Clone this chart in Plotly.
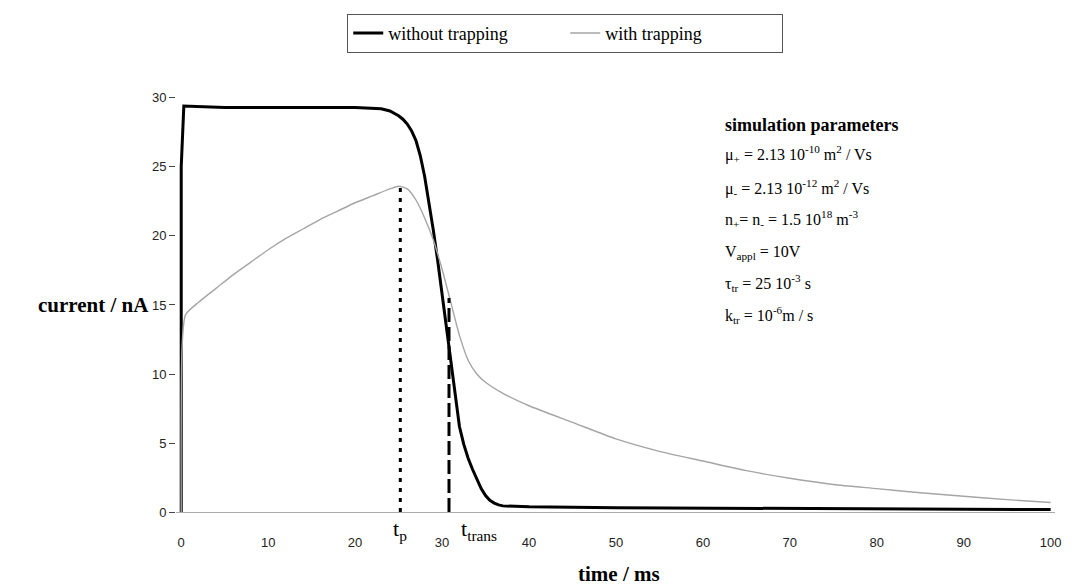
import plotly.graph_objects as go

# time axis (ms) and currents (nA)
t_without = [0, 0, 0.3, 5, 10, 15, 20, 23, 24, 25, 25.5, 26, 26.5, 27, 27.5, 28, 28.5, 29, 29.5, 30, 30.5,
             31, 31.5, 32, 32.5, 33, 33.5, 34, 34.5, 35, 35.5, 36, 36.5, 37, 40, 50, 60, 70, 80, 90, 100]
i_without = [0, 25, 29.4, 29.3, 29.3, 29.3, 29.3, 29.2, 29.05, 28.7, 28.45, 28.1, 27.6, 26.9, 25.8, 24.3, 22.5, 20.4, 18.2, 15.8, 13.2,
             10.6, 8.3, 6.2, 4.9, 3.9, 3.1, 2.4, 1.7, 1.2, 0.85, 0.65, 0.52, 0.45, 0.38, 0.32, 0.28, 0.25, 0.22, 0.2, 0.18]

t_with = [0, 0.1, 0.5, 2, 4, 6, 8, 10, 12, 14, 16, 18, 20, 22, 24, 25, 26, 27, 28, 29, 30, 31, 32, 33, 34, 35, 37, 40, 45, 50, 55, 60, 65, 70, 75, 80, 85, 90, 95, 100]
i_with = [0, 12, 14.3, 15.2, 16.2, 17.2, 18.1, 19.0, 19.8, 20.5, 21.2, 21.8, 22.4, 22.9, 23.4, 23.6, 23.4, 22.6, 21.3, 19.7, 17.6, 15.2, 12.8, 11.0, 10.0, 9.4, 8.6, 7.7, 6.5, 5.3, 4.4, 3.7, 3.0, 2.45, 2.0, 1.7, 1.4, 1.15, 0.9, 0.7]

# marker times
t_p = 25.2
i_p = 23.6
t_trans = 30.8
i_trans = 15.5

x_ticks = [0, 10, 20, 30, 40, 50, 60, 70, 80, 90, 100]
y_ticks = [0, 5, 10, 15, 20, 25, 30]

params = [
    "μ<sub>+</sub> = 2.13 10<sup>-10</sup> m<sup>2</sup> / Vs",
    "μ<sub>-</sub> = 2.13 10<sup>-12</sup> m<sup>2</sup> / Vs",
    "n<sub>+</sub>= n<sub>-</sub> = 1.5 10<sup>18</sup> m<sup>-3</sup>",
    "V<sub>appl</sub> = 10V",
    "τ<sub>tr</sub> = 25 10<sup>-3</sup> s",
    "k<sub>tr</sub> = 10<sup>-6</sup>m / s",
]
params_y = [25.9, 23.5, 21.2, 18.8, 16.6, 14.3]

SERIF = "Liberation Serif"
SANS = "Liberation Sans"

fig = go.Figure()
fig.add_trace(go.Scatter(x=t_without, y=i_without, mode="lines", name="without trapping",
                         line={"color": "black", "width": 3}))
fig.add_trace(go.Scatter(x=t_with, y=i_with, mode="lines", name="with trapping",
                         line={"color": "#a5a5a5", "width": 1.4, "shape": "spline", "smoothing": 0.6}))
fig.add_trace(go.Scatter(x=[t_p, t_p], y=[0, i_p], mode="lines", showlegend=False,
                         line={"color": "black", "width": 3, "dash": "4px,6px"}))
fig.add_trace(go.Scatter(x=[t_trans, t_trans], y=[0, i_trans], mode="lines", showlegend=False,
                         line={"color": "black", "width": 3, "dash": "14px,5px"}))

# annotations
fig.add_annotation(x=62.3, y=28.0, text="<b>simulation parameters</b>", showarrow=False,
                   xanchor="left", font={"family": SERIF, "size": 18, "color": "black"})
for txt, yy in zip(params, params_y):
    fig.add_annotation(x=62.3, y=yy, text=txt, showarrow=False, xanchor="left",
                       font={"family": SERIF, "size": 16, "color": "black"})

fig.add_annotation(x=-0.094, xref="paper", y=15.0, text="<b>current / nA</b>", showarrow=False,
                   xanchor="center", yanchor="middle",
                   font={"family": SERIF, "size": 21, "color": "black"})
fig.add_annotation(x=0.5044, xref="paper", y=-0.159, yref="paper", text="<b>time / ms</b>",
                   showarrow=False, xanchor="center", yanchor="bottom",
                   font={"family": SERIF, "size": 21, "color": "black"})
fig.add_annotation(x=t_p, y=-0.062, yref="paper", text="t<sub>p</sub>", showarrow=False,
                   yanchor="bottom", font={"family": SERIF, "size": 22, "color": "black"})
fig.add_annotation(x=32.0, y=-0.062, yref="paper", text="t<sub>trans</sub>", showarrow=False,
                   xanchor="left", yanchor="bottom", font={"family": SERIF, "size": 22, "color": "black"})

fig.update_layout(
    width=1082, height=585,
    margin={"l": 167.8, "r": 34.6, "t": 76, "b": 74},
    paper_bgcolor="white", plot_bgcolor="white",
    showlegend=True,
    legend={"orientation": "h", "xref": "container", "yref": "container",
            "x": 0.515, "xanchor": "center", "y": 0.99, "yanchor": "top",
            "bordercolor": "#555", "borderwidth": 1, "entrywidth": 172,
            "font": {"family": SERIF, "size": 18, "color": "black"}},
    xaxis={"range": [-0.6, 100.5], "tickvals": x_ticks, "showgrid": False, "zeroline": False,
           "showline": False, "ticks": "", "ticklabelstandoff": 14,
           "tickfont": {"family": SANS, "size": 13, "color": "#222"}},
    yaxis={"range": [-0.5, 31], "tickvals": y_ticks, "showgrid": False, "zeroline": True,
           "zerolinecolor": "#aaaaaa", "zerolinewidth": 1, "showline": False,
           "ticks": "outside", "ticklen": 6, "tickcolor": "#444",
           "tickfont": {"family": SANS, "size": 13, "color": "#222"}},
)

fig.write_html("out.html")
